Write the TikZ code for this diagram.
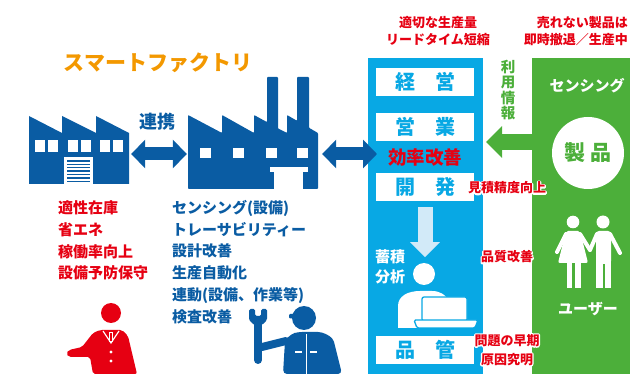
\documentclass[tikz,border=0pt]{standalone}
\usepackage{fontspec}
\setmainfont{Noto Sans CJK JP}
\usetikzlibrary{arrows.meta}

\definecolor{navy}{HTML}{0A5CA3}
\definecolor{sky}{HTML}{08A8E4}
\definecolor{leaf}{HTML}{4CAF3A}
\definecolor{alert}{HTML}{E60012}
\definecolor{amber}{HTML}{F39800}
\definecolor{mist}{HTML}{D2EAF8}

\newcommand\fsz[2]{\fontsize{#1}{#2}\selectfont\bfseries}
% white outline under a word: stroked copy first, filled copy on top
\newcommand\halo[1]{\makebox[0pt][l]{\special{pdf:literal direct 1 1 1 RG 2.6 w 1 j 1 Tr}#1\special{pdf:literal direct 0 Tr}}#1}

\begin{document}
\begin{tikzpicture}[x=1pt, y=-1pt, every node/.style={inner sep=0pt}]
  \useasboundingbox (0,0) rectangle (630,374);
  \tikzset{
    row/.style={fill=white, minimum width=98pt, minimum height=28pt, text=sky, font=\fsz{20}{24}},
    link/.style={navy, line width=13pt, {Triangle[length=14pt,width=28pt]}-{Triangle[length=14pt,width=28pt]}},
    note/.style={text=alert, font=\fsz{13}{17}, align=center},
    list/.style={font=\fsz{15}{21.7}, align=left, anchor=west}
  }

  % Warehouse with shutter door
  \node[minimum width=100pt, minimum height=60pt] (warehouse) at (79,154) {};
  \fill[navy] (29,184) -- (29,116) -- (62,133) -- (62,116) -- (96,133) -- (96,116)
    -- (129,133) -- (129,184) -- cycle;
  \foreach \x in {35,68,100} {
    \fill[white] (\x,140) rectangle ++(10,12);
    \fill[white] (\x+12.5,140) rectangle ++(10,12);
  }
  \fill[white] (64,157) rectangle (93,184);
  \foreach \y in {161,164.4,167.8,171.2,174.6,178,181.4}
    \draw[navy, line width=1.4pt] (67,\y) -- (90,\y);

  % Plant with two chimneys
  \node[minimum width=130pt, minimum height=60pt] (plant) at (253,154) {};
  \fill[navy, rounded corners=0.8pt] (188,189) -- (188,115) -- (222,133) -- (222,115) -- (254,133)
    -- (254,115) -- (267,122.1) -- (267,77) -- (278,77) -- (278,128.5) -- (287,133)
    -- (287,115) -- (297,120.8) -- (297,77) -- (309,77) -- (309,127.8) -- (318,133)
    -- (318,189) -- cycle;
  \foreach \x in {200,233,266,297}
    \fill[white] (\x,148) rectangle ++(11,10);
  \fill[white] (270,167) rectangle (308,172);
  \fill[white] (274,171) rectangle (303,189);

  \node[font=\fsz{21}{24}, text=amber] (title) at (158,63) {スマートファクトリ};
  \node[font=\fsz{18}{22}, text=navy] (together) at (157,122) {連携};

  % Departments
  \node[fill=sky, minimum width=115pt, minimum height=320pt, anchor=north west] (dept) at (368,58) {};
  \node[row] (mgmt) at (425,82) {経　営};
  \node[row] (sales) at (425,127) {営　業};
  \node[row] (devel) at (425,187) {開　発};
  \node[row] (qa) at (425,350) {品　管};
  \node[text=alert, font=\fsz{18.5}{22}] (gain) at (425,157) {効率改善};

  \draw[link] ([xshift=2pt]warehouse.east) -- ([xshift=-1pt]plant.west);
  \draw[link] ([xshift=4pt]plant.east) -- ([xshift=9pt]plant.east -| dept.west);

  % Analyst at a laptop
  \draw[mist, line width=15pt, -{Triangle[length=15pt,width=29pt]}] ([yshift=-6pt]devel.south) -- ++(0,50);
  \node[text=white, font=\fsz{15}{20}, align=center] (store) at (390,267) {蓄積\\分析};
  \fill[white] (424,274) circle[radius=11pt];
  \fill[white] (398,328) -- (398,306) .. controls (398,296) and (408,291) .. (420,291)
    -- (432,291) .. controls (440,291) and (446,295) .. (448,300) -- (448,328) -- cycle;
  \filldraw[fill=white, draw=sky, line width=1.3pt, rounded corners=2pt] (422,297) rectangle (467,321);
  \filldraw[fill=white, draw=sky, line width=1.3pt, rounded corners=1.5pt]
    (414,320) -- (478,320) -- (475,328) -- (417,328) -- cycle;

  % Market side
  \node[fill=leaf, minimum width=98pt, minimum height=320pt, anchor=north west] (market) at (532,58) {};
  \node[text=white, font=\fsz{15}{18}] (sensing) at (587,86) {センシング};
  \node[circle, fill=white, minimum size=72pt, text=leaf, font=\fsz{21}{24}] (product) at (588,153) {製\hspace{6pt}品};
  \node[text=white, font=\fsz{15}{18}] (users) at (588,309) {ユーザー};
  \coordinate (info) at (486,142);
  \draw[leaf, line width=16pt, -{Triangle[length=16pt,width=31pt]}] (market.west |- info) -- (info);
  \node[text=leaf, font=\fsz{14.5}{15.3}, align=center] (usage) at (508,90) {利\\用\\情\\報};

  % Couple
  \fill[white] (573,222) circle[radius=6.3pt];
  \fill[white, rounded corners=2pt] (566,231) -- (580,231) -- (588,263) -- (558,263) -- cycle;
  \fill[white] (566.5,262) rectangle (572,288);
  \fill[white] (575,262) rectangle (580.5,288);
  \draw[white, line width=4pt, line cap=round] (566,234) -- (557,252);
  \draw[white, line width=4pt, line cap=round] (580,234) -- (590,250);
  \fill[white] (603,222) circle[radius=6.5pt];
  \fill[white, rounded corners=3pt] (596,231) rectangle (611,264);
  \draw[white, line width=4pt, line cap=round] (597,234) -- (590,250);
  \draw[white, line width=4pt, line cap=round] (610,234) -- (620,253);
  \fill[white] (596,258) rectangle (602.5,288);
  \fill[white] (604.5,258) rectangle (611,288);

  % Notes
  \node[note] (lead) at (438,31) {適切な生産量\\リードタイム短縮};
  \node[note, align=right, anchor=east] (halt) at (628,31) {売れない製品は\\即時撤退／生産中};
  \node[note] (estimate) at (507,188) {\halo{見積精度向上}};
  \node[note] (quality) at (507,257) {\halo{品質改善}};
  \node[note, font=\fsz{13}{19}] (cause) at (507,350) {\halo{問題の早期}\\\halo{原因究明}};

  \node[list, text=alert] (gains) at (58,240.5) {適性在庫\\省エネ\\稼働率向上\\設備予防保守};
  \node[list, text=navy] (tasks) at (172,262) {センシング(設備)\\トレーサビリティー\\設計改善\\生産自動化\\連動(設備、作業等)\\検査改善};

  % Manager
  \fill[alert] (111,313) circle[radius=10pt];
  \fill[alert, rounded corners=2pt] (93,374) -- (90,357) -- (69,357) -- (66,353.5) -- (69,350)
    -- (82,347) -- (93,333) -- (100,330) -- (122,330) -- (128,336) -- (137,374) -- cycle;
  \draw[white, line width=1.2pt] (103,331) -- (111,343) -- (119,331);
  \filldraw[fill=alert, draw=white, line width=0.9pt] (109.3,332) rectangle (112.7,341);
  \fill[white] (111,352) circle[radius=1.6pt];
  \fill[white] (111,361) circle[radius=1.6pt];

  % Mechanic with a wrench
  \fill[navy] (304,318) circle[radius=12pt];
  \fill[navy, rounded corners=1pt] (289,314) rectangle (300,318.5);
  \fill[navy, rounded corners=4pt] (283,374) -- (285,341) -- (291,334) -- (298,332) -- (322,332)
    -- (333,338) -- (342,374) -- cycle;
  \draw[navy, line width=8pt, line cap=round] (262,347) -- (286,341);
  \draw[navy, line width=8pt, line cap=round] (258,320) -- (258,360);
  \fill[navy, rounded corners=1.5pt] (249,309) -- (255,309) -- (255,316) -- (261,316) -- (261,309)
    -- (267,309) -- (267,320) -- (262,325) -- (254,325) -- (249,320) -- cycle;
  \draw[white, line width=1pt] (306,334) -- (306,374);
  \draw[white, line width=1.2pt] (295,352) -- (302,352) (310,352) -- (317,352);
\end{tikzpicture}
\end{document}
